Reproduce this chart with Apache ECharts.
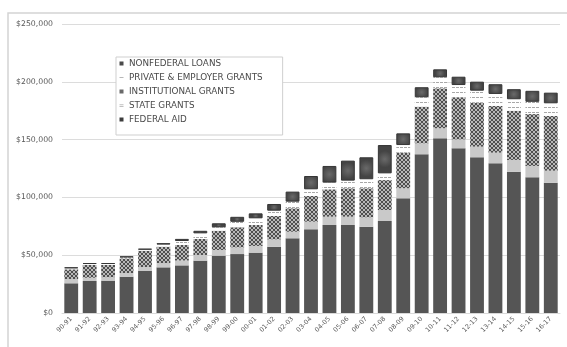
<!DOCTYPE html>
<html>
<head>
<meta charset="utf-8">
<script src="https://cdn.jsdelivr.net/npm/echarts@6/dist/echarts.min.js"></script>
<style>
  html, body { margin: 0; padding: 0; background: #fff; }
  #chart { width: 567px; height: 347px; }
</style>
</head>
<body>
<div id="chart"></div>
<script>
// Academic years
const years = ['90-91','91-92','92-93','93-94','94-95','95-96','96-97','97-98','98-99','99-00',
  '00-01','01-02','02-03','03-04','04-05','05-06','06-07','07-08','08-09','09-10',
  '10-11','11-12','12-13','13-14','14-15','15-16','16-17'];

// Aid by source, dollars
const federalAid = [25700, 27700, 28000, 31400, 36600, 39500, 41200, 45300, 49600, 51000,
  52200, 57400, 64600, 72400, 76100, 76100, 74700, 79600, 99200, 137300,
  151100, 142500, 134700, 129500, 122200, 117400, 112700];
const stateGrants = [3700, 2800, 3000, 3200, 3200, 3700, 4200, 4900, 4900, 5800,
  5800, 6300, 5700, 6600, 7200, 7200, 8100, 9500, 8700, 9500,
  8700, 7700, 9200, 9200, 10200, 9800, 10400];
const institutionalGrants = [8400, 11000, 10500, 12700, 14100, 14200, 13400, 13800, 16700, 17300,
  18100, 20200, 20300, 22200, 23700, 24600, 25100, 25900, 30800, 31700,
  34600, 36400, 38000, 40400, 42600, 44900, 47300];
const privateEmployerGrants = [1000, 1000, 1000, 1000, 1000, 1800, 3500, 4900, 2900, 4800,
  5800, 4600, 5700, 5800, 5800, 6600, 7800, 5800, 6600, 8100,
  9500, 10600, 10400, 10400, 9900, 10600, 11000];
const nonfederalLoans = [600, 600, 600, 600, 600, 1200, 1800, 2200, 3500, 4300,
  4300, 5800, 8700, 11500, 14400, 17300, 19000, 24500, 10100, 8700,
  6900, 7200, 7800, 8400, 8700, 9500, 9200];

// Y axis ticks
const yTicks = [0, 50000, 100000, 150000, 200000, 250000];

// Small repeating tiles used as bar fills
function tile(w, h, bg, fg, pts) {
  const c = document.createElement('canvas');
  c.width = w; c.height = h;
  const g = c.getContext('2d');
  g.fillStyle = bg; g.fillRect(0, 0, w, h);
  g.fillStyle = fg;
  pts.forEach(p => g.fillRect(p[0], p[1], 1, 1));
  return { image: c, repeat: 'repeat' };
}
const crossFill = tile(4, 4, '#b9b9b9', '#4f4f4f',
  [[0,0],[1,1],[2,2],[3,3],[0,3],[1,2],[2,1],[3,0]]);
const dashFill = tile(4, 5, '#ffffff', '#a8a8a8', [[0,2],[1,2],[2,2]]);
const loanFill = {
  type: 'radial', x: 0.5, y: 0.5, r: 0.6,
  colorStops: [
    { offset: 0, color: '#6a6a6a' },
    { offset: 1, color: '#444444' }
  ]
};

const chart = echarts.init(document.getElementById('chart'), null, { renderer: 'canvas' });

// Icon paths padded to a 10x10 box so the legend keeps the glyph proportions
const box = 'M0,0h0.01v0.01h-0.01z M9.99,9.99h0.01v0.01h-0.01z ';
const iconSquare = 'path://' + box + 'M1,1h8v8h-8z';
const iconDash = 'path://' + box + 'M1,4.5h8v1.5h-8z';
const iconEq = 'path://' + box + 'M1,2.5h8v2h-8z M1,6h8v2h-8z';

chart.setOption({
  animation: false,
  backgroundColor: '#ffffff',
  textStyle: { fontFamily: 'DejaVu Sans', color: '#595959' },
  graphic: [{
    type: 'rect',
    shape: { x: 8, y: 13, width: 562, height: 345 },
    style: { fill: 'none', stroke: '#d4d4d4', lineWidth: 1.5 },
    silent: true
  }],
  grid: { left: 62, right: 7, top: 24, bottom: 34, containLabel: false },
  legend: {
    orient: 'vertical',
    left: 116,
    top: 57,
    backgroundColor: '#ffffff',
    borderColor: '#cfcfcf',
    borderWidth: 1,
    padding: [2, 20, 11, 3],
    itemWidth: 5,
    itemHeight: 5,
    itemGap: 5,
    selectedMode: false,
    textStyle: { fontFamily: 'DejaVu Sans', fontSize: 8.8, lineHeight: 9, color: '#4a4a4a' },
    data: [
      { name: 'NONFEDERAL LOANS', icon: iconSquare, itemStyle: { color: '#4a4a4a', borderWidth: 0 } },
      { name: 'PRIVATE & EMPLOYER GRANTS', icon: iconDash, itemStyle: { color: '#a0a0a0', borderWidth: 0 } },
      { name: 'INSTITUTIONAL GRANTS', icon: iconSquare, itemStyle: { color: '#6a6a6a', borderWidth: 0 } },
      { name: 'STATE GRANTS', icon: iconEq, itemStyle: { color: '#c0c0c0', borderWidth: 0 } },
      { name: 'FEDERAL AID', icon: iconSquare, itemStyle: { color: '#3c3c3c', borderWidth: 0 } }
    ]
  },
  xAxis: {
    type: 'category',
    data: years,
    axisLine: { show: true, lineStyle: { color: '#d9d9d9', width: 1 } },
    axisTick: { show: false },
    axisLabel: {
      interval: 0,
      rotate: 45,
      margin: 5,
      fontFamily: 'DejaVu Sans',
      fontSize: 6.5,
      color: '#595959'
    }
  },
  yAxis: {
    type: 'value',
    min: yTicks[0],
    max: yTicks[yTicks.length - 1],
    interval: yTicks[1] - yTicks[0],
    axisLine: { show: false },
    axisTick: { show: false },
    splitLine: { lineStyle: { color: '#dcdcdc', width: 1 } },
    axisLabel: {
      margin: 9,
      fontFamily: 'DejaVu Sans',
      fontSize: 7.75,
      color: '#595959',
      formatter: v => '$' + v.toLocaleString('en-US')
    }
  },
  series: [
    {
      name: 'FEDERAL AID', type: 'bar', stack: 'aid', data: federalAid,
      barCategoryGap: '25%',
      itemStyle: { color: '#555555' }
    },
    {
      name: 'STATE GRANTS', type: 'bar', stack: 'aid', data: stateGrants,
      itemStyle: { color: '#c9c9c9' }
    },
    {
      name: 'INSTITUTIONAL GRANTS', type: 'bar', stack: 'aid', data: institutionalGrants,
      itemStyle: { color: crossFill }
    },
    {
      name: 'PRIVATE & EMPLOYER GRANTS', type: 'bar', stack: 'aid', data: privateEmployerGrants,
      itemStyle: { color: dashFill }
    },
    {
      name: 'NONFEDERAL LOANS', type: 'bar', stack: 'aid', data: nonfederalLoans,
      itemStyle: { color: loanFill, borderColor: '#363636', borderWidth: 1 }
    }
  ]
});
</script>
</body>
</html>
